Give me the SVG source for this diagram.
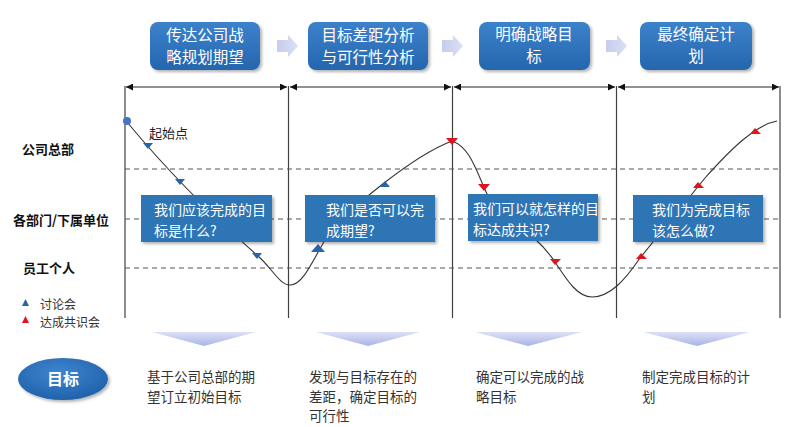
<svg xmlns="http://www.w3.org/2000/svg" width="794" height="427" viewBox="0 0 794 427">
<defs>
<style>
.cjk{font-family:"Noto Sans CJK SC","Noto Sans",sans-serif}
.tb{fill:#fff;font-size:15.5px;text-anchor:middle}
.cb{fill:#fff;font-size:14px}
.lbl{fill:#111;font-size:13px;font-weight:bold}
.bt{fill:#333;font-size:13.5px}
.vl{stroke:#404040;stroke-width:1.2;fill:none}
.dl{stroke:#555;stroke-width:1;stroke-dasharray:5,4;fill:none}
.hl{stroke:#222;stroke-width:1;fill:none;marker-start:url(#ah);marker-end:url(#ah)}
.blu{fill:#2A63A8}
.red{fill:#E0141E}
</style>
<marker id="ah" viewBox="0 0 8 8" refX="8" refY="4" markerWidth="7" markerHeight="7" orient="auto-start-reverse" markerUnits="userSpaceOnUse">
<path d="M0,0 L8,4 L0,8 z" fill="#111"/>
</marker>
<linearGradient id="gBox" x1="0" y1="0" x2="0" y2="1">
<stop offset="0" stop-color="#3B82CB"/>
<stop offset="1" stop-color="#2566AE"/>
</linearGradient>
<linearGradient id="gArr" x1="0" y1="0" x2="1" y2="0">
<stop offset="0" stop-color="#C6CCEC"/>
<stop offset="1" stop-color="#DCE0F5"/>
</linearGradient>
<linearGradient id="gChev" x1="0" y1="0" x2="0" y2="1">
<stop offset="0" stop-color="#DDE1F6"/>
<stop offset="1" stop-color="#A9B4E6"/>
</linearGradient>
<radialGradient id="gEl" cx="0.45" cy="0.35" r="0.7">
<stop offset="0" stop-color="#3D86CF"/>
<stop offset="1" stop-color="#1F5FA8"/>
</radialGradient>
<filter id="sh" x="-10%" y="-10%" width="125%" height="130%">
<feDropShadow dx="2" dy="2" stdDeviation="1.5" flood-color="#000" flood-opacity="0.3"/>
</filter>
</defs>
<rect width="794" height="427" fill="#fff"/>

<!-- top step boxes -->
<g id="step1" class="cjk"><rect x="150" y="22" width="110" height="48" rx="8" fill="url(#gBox)" filter="url(#sh)"/><text class="tb" x="205" y="41">传达公司战</text><text class="tb" x="205" y="63">略规划期望</text></g>
<g id="step2" class="cjk"><rect x="308" y="22" width="120" height="48" rx="8" fill="url(#gBox)" filter="url(#sh)"/><text class="tb" x="368" y="41">目标差距分析</text><text class="tb" x="368" y="63">与可行性分析</text></g>
<g id="step3" class="cjk"><rect x="479" y="22" width="111" height="48" rx="8" fill="url(#gBox)" filter="url(#sh)"/><text class="tb" x="534" y="40">明确战略目</text><text class="tb" x="534" y="62">标</text></g>
<g id="step4" class="cjk"><rect x="640" y="22" width="112" height="48" rx="8" fill="url(#gBox)" filter="url(#sh)"/><text class="tb" x="696" y="40">最终确定计</text><text class="tb" x="696" y="62">划</text></g>

<!-- block arrows between steps -->
<g id="stepArrows" fill="url(#gArr)">
<path d="M277,40 H288 V35 L298,46 L288,57 V52 H277 Z"/>
<path d="M442,40 H453 V35 L463,46 L453,57 V52 H442 Z"/>
<path d="M606,40 H617 V35 L627,46 L617,57 V52 H606 Z"/>
</g>

<!-- grid -->
<g id="grid">
<line class="vl" x1="125" y1="86" x2="125" y2="318"/>
<line class="vl" x1="288.5" y1="86" x2="288.5" y2="318"/>
<line class="vl" x1="452.5" y1="86" x2="452.5" y2="318"/>
<line class="vl" x1="616.5" y1="86" x2="616.5" y2="318"/>
<line class="vl" x1="780" y1="86" x2="780" y2="318"/>
<line class="dl" x1="125" y1="169" x2="780" y2="169"/>
<line class="dl" x1="125" y1="219" x2="780" y2="219"/>
<line class="dl" x1="125" y1="268" x2="780" y2="268"/>
<line class="hl" x1="126" y1="87" x2="287" y2="87"/>
<line class="hl" x1="290" y1="87" x2="451" y2="87"/>
<line class="hl" x1="454" y1="87" x2="615" y2="87"/>
<line class="hl" x1="618" y1="87" x2="779" y2="87"/>
</g>

<!-- left labels -->
<g id="rowLabels" class="cjk">
<text class="lbl" x="22" y="154">公司总部</text>
<text class="lbl" x="13" y="225">各部门/下属单位</text>
<text class="lbl" x="23" y="273">员工个人</text>
</g>

<!-- curve -->
<g id="connectors">
<path d="M127,122 C160,162 200,205 258,256 C272,268 280,286 291,285 C303,284 312,262 325,240 C345,210 415,155 452,141 C472,148 477,175 490,200 C500,220 530,225 555,262 C568,282 578,297 592,297 C610,297 625,280 640,258 L705,178 C730,150 755,125 777,121" fill="none" stroke="#333" stroke-width="1.1"/>
<circle cx="127" cy="121" r="4" fill="#4A72C4"/>
<!-- blue discussion markers -->
<path class="blu" d="M143,143 H153 L148,149 Z"/>
<path class="blu" d="M175,179 H185 L180,185 Z"/>
<path class="blu" d="M252,253 H262 L257,259 Z"/>
<path class="blu" d="M311,252 H325 L318,244 Z"/>
<path class="blu" d="M380,187 H390 L385,181 Z"/>
<!-- red consensus markers -->
<path class="red" d="M446,138 H458 L452,145 Z"/>
<path class="red" d="M478,184 H490 L484,191 Z"/>
<path class="red" d="M550,259 H561 L555,265 Z"/>
<path class="red" d="M636,259 H647 L641,253 Z"/>
<path class="red" d="M693,188 H704 L698,182 Z"/>
<path class="red" d="M750,134 H761 L755,128 Z"/>
</g>
<text class="cjk" x="149" y="138" font-size="13" fill="#222">起始点</text>

<!-- callout boxes -->
<g id="callout1" class="cjk"><rect x="141" y="195" width="131" height="47" fill="#2E75B6" filter="url(#sh)"/><text class="cb" x="154" y="215">我们应该完成的目</text><text class="cb" x="154" y="236">标是什么?</text></g>
<g id="callout2" class="cjk"><rect x="305" y="195" width="130" height="47" fill="#2E75B6" filter="url(#sh)"/><text class="cb" x="326" y="215">我们是否可以完</text><text class="cb" x="326" y="236">成期望?</text></g>
<g id="callout3" class="cjk"><rect x="468" y="194" width="130" height="47" fill="#2E75B6" filter="url(#sh)"/><text class="cb" x="473" y="214">我们可以就怎样的目</text><text class="cb" x="473" y="235">标达成共识?</text></g>
<g id="callout4" class="cjk"><rect x="633" y="195" width="130" height="47" fill="#2E75B6" filter="url(#sh)"/><text class="cb" x="652" y="215">我们为完成目标</text><text class="cb" x="652" y="236">该怎么做?</text></g>

<!-- legend -->
<g id="legend" class="cjk">
<path class="blu" d="M22,306 H29 L25.5,299 Z"/>
<text x="40" y="309" font-size="12" fill="#333">讨论会</text>
<path class="red" d="M22,323 H29 L25.5,316 Z"/>
<text x="40" y="327" font-size="12" fill="#333">达成共识会</text>
</g>

<!-- chevrons -->
<g id="chevrons" fill="url(#gChev)">
<path d="M152,332 H256 L204,346 Z"/>
<path d="M316,332 H420 L368,346 Z"/>
<path d="M475,332 H582 L528,346 Z"/>
<path d="M643,332 H750 L697,346 Z"/>
</g>

<!-- goal ellipse -->
<g id="goal" class="cjk"><ellipse cx="63" cy="379" rx="45" ry="21" fill="url(#gEl)" filter="url(#sh)"/><text x="63" y="385" font-size="16" font-weight="bold" fill="#fff" text-anchor="middle">目标</text></g>

<!-- bottom descriptions -->
<g id="desc1" class="cjk"><text class="bt" x="147" y="382">基于公司总部的期</text><text class="bt" x="147" y="401.5">望订立初始目标</text></g>
<g id="desc2" class="cjk"><text class="bt" x="309" y="382">发现与目标存在的</text><text class="bt" x="309" y="401.5">差距，确定目标的</text><text class="bt" x="309" y="421">可行性</text></g>
<g id="desc3" class="cjk"><text class="bt" x="476" y="382">确定可以完成的战</text><text class="bt" x="476" y="401.5">略目标</text></g>
<g id="desc4" class="cjk"><text class="bt" x="642" y="382">制定完成目标的计</text><text class="bt" x="642" y="401.5">划</text></g>
</svg>
